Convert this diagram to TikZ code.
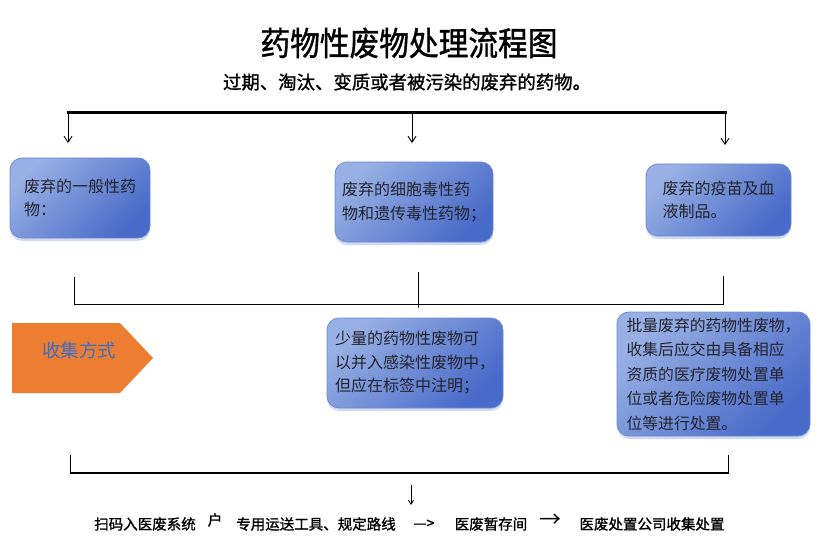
\documentclass[tikz,border=0pt]{standalone}
\usepackage{fontspec}
\setmainfont{Noto Sans CJK SC}
\newfontfamily\titlefont{Noto Sans CJK SC}[FakeStretch=0.9, FakeBold=1.2]
\newfontfamily\heavyfont{Noto Sans CJK SC}[FakeBold=1.2]
\usepackage{tikz}
\usetikzlibrary{arrows.meta, positioning, shadows}

\definecolor{boxlight}{RGB}{152,176,228}
\definecolor{boxdark}{RGB}{72,106,200}
\definecolor{boxline}{RGB}{110,138,212}
\definecolor{tagfill}{RGB}{237,125,49}
\definecolor{tagtext}{RGB}{60,110,196}
\definecolor{inktext}{RGB}{35,35,45}

\tikzset{
  drugbox/.style={draw=boxline, line width=0.8pt, rounded corners=12pt,
    top color=boxlight, bottom color=boxdark, shading angle=45,
    drop shadow={shadow xshift=0pt, shadow yshift=-3pt, opacity=0.25, fill=boxdark},
    align=left, inner sep=0pt, text=inktext, font=\fontsize{16}{23.5}\selectfont},
  flowtext/.style={inner sep=0pt, font=\heavyfont\fontsize{14.5}{16}\selectfont},
  downarr/.style={-{Straight Barb[length=6pt,width=8pt]}, line width=0.9pt},
}

\begin{document}
\begin{tikzpicture}[x=1pt, y=-1pt]
    \useasboundingbox (0,0) rectangle (820,559);

    % Title
    \node[inner sep=0pt, font=\titlefont\fontsize{33}{36}\selectfont] (title) at (409,43) {药物性废物处理流程图};
    \node[inner sep=0pt, font=\heavyfont\fontsize{18.4}{20}\selectfont] (subtitle) at (407,82) {过期、淘汰、变质或者被污染的废弃的药物。};

    % Top split
    \coordinate (split1) at (68,113);
    \coordinate (split2) at (412,113);
    \coordinate (split3) at (725,113);
    \draw[line width=3pt] (66.5,113) -- (726.5,113);
    \draw[downarr] (split1) -- (68,143);
    \draw[downarr] (split2) -- (412,143);
    \draw[downarr] (split3) -- (725,145);

    % Kinds of waste
    \node[drugbox, minimum width=140pt, minimum height=80pt] (general) at (80,198) {废弃的一般性药\\物：};
    \node[drugbox, minimum width=158pt, minimum height=80pt] (cyto) at (414,202) {废弃的细胞毒性药\\物和遗传毒性药物；};
    \node[drugbox, minimum width=145pt, minimum height=72pt] (vaccine) at (718.5,200) {废弃的疫苗及血\\液制品。};

    % Join
    \draw[line width=0.9pt] (74,277) -- (74,304) -- (723,304) -- (723,276);
    \draw[line width=0.9pt] (418,272) -- (418,308);

    % Collection
    \fill[tagfill] (12,323) -- (120,323) -- (153,358) -- (120,393) -- (12,393) -- cycle;
    \node[inner sep=0pt, text=tagtext, font=\fontsize{18.5}{20}\selectfont] (collect) at (79,350) {收集方式};
    \node[drugbox, minimum width=176pt, minimum height=90pt] (small) at (415,363) {少量的药物性废物可\\以并入感染性废物中，\\但应在标签中注明；};
    \node[drugbox, minimum width=193pt, minimum height=124pt, font=\fontsize{15.8}{24.5}\selectfont] (bulk) at (713.5,374) {批量废弃的药物性废物，\\收集后应交由具备相应\\资质的医疗废物处置单\\位或者危险废物处置单\\位等进行处置。};

    % Bottom bracket
    \draw[line width=0.9pt] (70,455) -- (70,473);
    \draw[line width=0.9pt] (728,455) -- (728,473);
    \draw[line width=2pt] (69.5,473) -- (728.5,473);
    \coordinate (down1) at (411,485);
    \coordinate (down2) at (411,505);
    \draw[-{Straight Barb[length=4pt,width=5pt]}, line width=0.8pt] (down1) -- (down2);

    % Route
    \node[flowtext] (scan) at (145,524) {扫码入医废系统};
    \node[flowtext] (door) at (215,520) {户};
    \node[flowtext] (carry) at (316,524) {专用运送工具、规定路线};
    \node[flowtext] (dash) at (424,524) {—>};
    \node[flowtext] (store) at (491,524) {医废暂存间};
    \node[flowtext, font=\fontsize{22}{22}\selectfont] (goto) at (550,521) {→};
    \node[flowtext] (dispose) at (652,524) {医废处置公司收集处置};
\end{tikzpicture}
\end{document}
